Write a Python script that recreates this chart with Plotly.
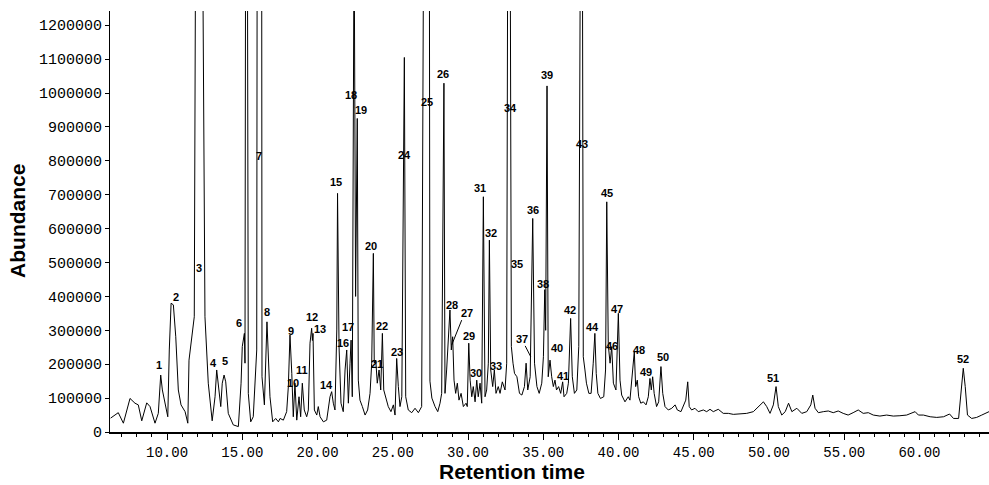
import plotly.graph_objects as go

# ---- chromatogram trace (retention time in min, abundance) ----
retention_time = [
    6.25, 6.76, 7.10, 7.54, 7.87, 8.09, 8.32, 8.65, 8.87, 9.20,
    9.42, 9.58, 9.69, 9.87, 10.05, 10.15, 10.27, 10.42, 10.58, 10.75,
    10.93, 11.20, 11.38, 11.46, 11.68, 11.81, 11.90, 12.36, 12.52, 12.74,
    13.00, 13.19, 13.30, 13.41, 13.57, 13.67, 13.79, 13.90, 14.07, 14.40,
    14.74, 14.92, 15.00, 15.14, 15.18, 15.22, 15.34, 15.40, 15.56, 15.73,
    15.96, 15.99, 16.29, 16.31, 16.47, 16.64, 16.73, 16.84, 17.02, 17.22,
    17.40, 17.51, 17.73, 17.95, 18.06, 18.17, 18.29, 18.39, 18.50, 18.62,
    18.77, 18.88, 18.99, 19.12, 19.28, 19.39, 19.50, 19.61, 19.66, 19.70,
    19.79, 19.95, 20.05, 20.17, 20.39, 20.61, 20.83, 20.94, 21.05, 21.16,
    21.28, 21.33, 21.43, 21.56, 21.71, 21.83, 21.94, 22.05, 22.16, 22.23,
    22.31, 22.43, 22.53, 22.64, 22.71, 22.82, 22.98, 23.16, 23.33, 23.49,
    23.60, 23.71, 23.77, 23.87, 23.97, 24.09, 24.20, 24.31, 24.40, 24.53,
    24.70, 24.88, 25.04, 25.15, 25.26, 25.37, 25.48, 25.60, 25.77, 25.86,
    26.03, 26.26, 26.48, 26.70, 26.92, 27.05, 27.43, 27.47, 27.60, 27.81,
    27.99, 28.14, 28.25, 28.40, 28.47, 28.58, 28.69, 28.80, 28.89, 28.98,
    29.07, 29.18, 29.29, 29.40, 29.54, 29.69, 29.87, 29.95, 30.05, 30.14,
    30.25, 30.35, 30.47, 30.58, 30.68, 30.80, 30.91, 31.02, 31.13, 31.24,
    31.35, 31.42, 31.51, 31.64, 31.75, 31.86, 32.01, 32.13, 32.28, 32.46,
    32.57, 32.64, 32.80, 32.84, 32.88, 32.99, 33.09, 33.25, 33.42, 33.58,
    33.75, 33.86, 33.97, 34.13, 34.30, 34.42, 34.58, 34.73, 34.90, 35.01,
    35.10, 35.16, 35.25, 35.33, 35.45, 35.56, 35.67, 35.78, 35.88, 36.02,
    36.16, 36.29, 36.38, 36.56, 36.67, 36.82, 36.93, 37.07, 37.23, 37.36,
    37.47, 37.60, 37.66, 37.77, 37.87, 38.03, 38.18, 38.32, 38.43, 38.52,
    38.63, 38.80, 39.02, 39.14, 39.22, 39.32, 39.44, 39.55, 39.66, 39.83,
    39.99, 40.10, 40.21, 40.43, 40.65, 40.76, 40.92, 41.05, 41.14, 41.25,
    41.34, 41.48, 41.65, 41.83, 41.98, 42.09, 42.18, 42.27, 42.37, 42.53,
    42.67, 42.82, 42.94, 43.09, 43.31, 43.54, 43.76, 43.91, 44.15, 44.31,
    44.47, 44.60, 44.70, 44.86, 45.08, 45.30, 45.64, 45.86, 46.08, 46.30,
    46.63, 46.96, 47.30, 47.63, 48.07, 48.52, 48.96, 49.29, 49.63, 49.85,
    50.07, 50.29, 50.47, 50.62, 50.85, 51.08, 51.30, 51.52, 51.85, 52.18,
    52.51, 52.78, 52.91, 53.06, 53.28, 53.61, 53.94, 54.27, 54.60, 54.93,
    55.26, 55.59, 55.93, 56.26, 56.60, 56.93, 57.37, 57.82, 58.26, 58.70,
    59.15, 59.71, 59.93, 60.26, 60.71, 61.15, 61.60, 62.00, 62.26, 62.60,
    62.76, 62.91, 63.04, 63.19, 63.47, 63.80, 64.14, 64.62,
]
abundance = [
    41000, 57000, 26000, 99000, 85000, 80000, 33000, 86000, 75000, 26000,
    55000, 168000, 124000, 80000, 45000, 242000, 380000, 375000, 281000, 124000,
    80000, 60000, 26000, 212000, 301000, 340000, 1500000, 1500000, 340000, 144000,
    33000, 104000, 183000, 144000, 75000, 144000, 168000, 148000, 55000, 21000,
    16000, 144000, 252000, 291000, 203000, 1500000, 1500000, 114000, 30000, 45000,
    242000, 1500000, 1500000, 163000, 80000, 325000, 242000, 104000, 30000, 40000,
    30000, 40000, 35000, 60000, 134000, 286000, 173000, 45000, 144000, 35000,
    104000, 45000, 144000, 65000, 45000, 65000, 262000, 306000, 270000, 291000,
    65000, 50000, 75000, 45000, 30000, 35000, 104000, 119000, 85000, 65000,
    301000, 704000, 252000, 85000, 60000, 183000, 242000, 85000, 203000, 271000,
    104000, 1500000, 400000, 925000, 153000, 94000, 75000, 50000, 65000, 114000,
    203000, 527000, 203000, 212000, 144000, 183000, 124000, 291000, 124000, 104000,
    75000, 60000, 80000, 50000, 217000, 134000, 75000, 104000, 1105000, 104000,
    65000, 57000, 70000, 57000, 75000, 1500000, 1500000, 150000, 100000, 75000,
    60000, 85000, 114000, 1029000, 114000, 183000, 262000, 360000, 242000, 281000,
    153000, 114000, 144000, 94000, 114000, 75000, 85000, 75000, 262000, 153000,
    104000, 134000, 89000, 153000, 104000, 144000, 85000, 694000, 104000, 124000,
    203000, 566000, 183000, 134000, 183000, 114000, 134000, 114000, 148000, 124000,
    203000, 1500000, 1500000, 497000, 252000, 203000, 173000, 163000, 114000, 109000,
    134000, 203000, 124000, 163000, 630000, 203000, 134000, 114000, 144000, 222000,
    420000, 300000, 1021000, 163000, 212000, 163000, 134000, 153000, 124000, 134000,
    114000, 148000, 104000, 114000, 144000, 335000, 163000, 114000, 124000, 252000,
    1500000, 1500000, 222000, 183000, 144000, 114000, 114000, 203000, 291000, 173000,
    114000, 99000, 104000, 183000, 679000, 257000, 203000, 252000, 144000, 124000,
    350000, 153000, 109000, 89000, 104000, 94000, 163000, 237000, 134000, 153000,
    104000, 85000, 89000, 80000, 104000, 158000, 124000, 163000, 114000, 75000,
    89000, 193000, 114000, 75000, 65000, 70000, 80000, 65000, 60000, 75000,
    94000, 148000, 75000, 65000, 70000, 60000, 65000, 60000, 67000, 60000,
    67000, 55000, 55000, 52000, 53000, 55000, 60000, 75000, 89000, 75000,
    55000, 80000, 134000, 75000, 50000, 60000, 85000, 60000, 70000, 55000,
    60000, 80000, 109000, 70000, 57000, 60000, 62000, 57000, 62000, 55000,
    50000, 57000, 65000, 55000, 57000, 50000, 47000, 50000, 47000, 48000,
    50000, 60000, 50000, 50000, 45000, 43000, 45000, 53000, 40000, 40000,
    124000, 188000, 134000, 50000, 40000, 43000, 50000, 60000,
]
assert len(retention_time) == len(abundance)

# ---- peak numbers and where they are written (data units) ----
label_text = [str(i) for i in range(1, 53)]
label_time = [
    9.49, 10.58, 12.13, 13.12, 13.87, 14.80, 16.13, 16.62, 18.26, 18.35,
    19.00, 19.61, 20.17, 20.61, 21.21, 21.71, 22.00, 22.20, 22.89, 23.55,
    23.93, 24.27, 25.26, 25.77, 27.26, 28.36, 29.95, 28.92, 30.09, 30.53,
    30.80, 31.51, 31.86, 32.79, 33.28, 34.34, 33.57, 34.95, 35.23, 35.89,
    36.29, 36.78, 37.55, 38.29, 39.26, 39.55, 39.88, 41.38, 41.83, 42.98,
    50.25, 62.87,
]
label_abundance = [
    198000, 399000, 483000, 203000, 210000, 321000, 814000, 355000, 298000, 145000,
    183000, 338000, 303000, 139000, 738000, 262000, 311000, 994000, 950000, 549000,
    200000, 313000, 235000, 817000, 974000, 1055000, 352000, 375000, 283000, 175000,
    719000, 588000, 195000, 955000, 496000, 655000, 273000, 437000, 1053000, 247000,
    165000, 360000, 849000, 311000, 704000, 254000, 362000, 242000, 176000, 222000,
    158000, 215000,
]
# leader lines from labels 27 and 37 to their peaks
leader_t0 = [29.58, 33.80]
leader_v0 = [330000, 254000]
leader_t1 = [28.92, 34.17]
leader_v1 = [257000, 222000]

x_major = [10, 15, 20, 25, 30, 35, 40, 45, 50, 55, 60]
y_major = [0, 100000, 200000, 300000, 400000, 500000, 600000,
           700000, 800000, 900000, 1000000, 1100000, 1200000]

fig = go.Figure()
fig.add_trace(go.Scatter(
    x=retention_time, y=abundance, mode="lines",
    line=dict(color="black", width=1), hoverinfo="skip", showlegend=False,
))

for txt, t, v in zip(label_text, label_time, label_abundance):
    fig.add_annotation(
        x=t, y=v, xref="x", yref="y", text="<b>%s</b>" % txt, showarrow=False,
        font=dict(family="Liberation Sans, Arial, sans-serif", size=11, color="black"),
        xanchor="center", yanchor="middle",
    )

for t0, v0, t1, v1 in zip(leader_t0, leader_v0, leader_t1, leader_v1):
    fig.add_shape(type="line", x0=t0, y0=v0, x1=t1, y1=v1, xref="x", yref="y",
                  line=dict(color="black", width=1))

fig.add_annotation(
    text="<b>Abundance</b>", xref="paper", yref="paper", x=-0.106, y=0.501,
    textangle=-90, showarrow=False, xanchor="center", yanchor="middle",
    font=dict(family="Liberation Sans, Arial, sans-serif", size=21, color="black"),
)
fig.add_annotation(
    text="<b>Retention time</b>", xref="paper", yref="paper", x=0.457, y=-0.124,
    showarrow=False, xanchor="center", yanchor="bottom", borderpad=0,
    font=dict(family="Liberation Sans, Arial, sans-serif", size=21, color="black"),
)

mono = dict(family="Liberation Mono, Courier New, monospace", size=14, color="black")
mono_y = dict(family="Liberation Mono, Courier New, monospace", size=15, color="black")

fig.update_layout(
    width=989, height=485,
    margin=dict(l=110, r=0, t=11, b=53),
    paper_bgcolor="white", plot_bgcolor="white",
    xaxis=dict(
        range=[6.21, 64.62], tickvals=x_major,
        ticktext=["%.2f" % v for v in x_major],
        ticks="outside", ticklen=6, tickwidth=1, tickcolor="black",
        minor=dict(dtick=1, tick0=0, ticks="outside", ticklen=3, tickcolor="black"),
        showline=True, linecolor="black", linewidth=2,
        showgrid=False, zeroline=False, tickfont=mono,
    ),
    yaxis=dict(
        range=[0, 1242000], tickvals=y_major,
        ticktext=[str(v) for v in y_major],
        ticks="outside", ticklen=4, tickcolor="black",
        showline=True, linecolor="black", linewidth=1,
        showgrid=False, zeroline=False, tickfont=mono_y,
    ),
)

fig.write_html(
    "out.html",
    config={"displayModeBar": False},
    post_script="document.body.style.margin='0';document.body.style.padding='0';"
                "document.body.style.overflow='hidden';",
)
